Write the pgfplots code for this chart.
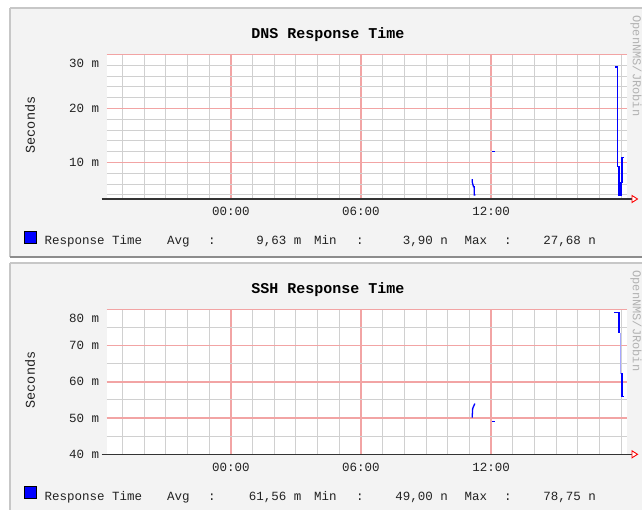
\documentclass[border=0pt]{standalone}
\usepackage{pgfplots}
\pgfplotsset{compat=1.18}
\usepackage{fontspec}
\setmainfont{Liberation Mono}
\newfontfamily\mono{Liberation Mono}
\definecolor{panelbg}{HTML}{F3F3F3}
\definecolor{majgrid}{HTML}{F2A4A4}
\definecolor{mingrid}{HTML}{D0D0D0}
\definecolor{rrdblue}{HTML}{0000FF}
\definecolor{txt}{HTML}{222222}
\pgfplotsset{rrd/.style={
  scale only axis, width=520.3pt,
  xmin=-5.73, xmax=18.27,
  axis line style={draw=none},
  grid=both,
  major grid style={majgrid, line width=1.5pt},
  minor grid style={mingrid, line width=1pt},
  major tick length=0pt, minor tick length=0pt,
  xtick={0,6,12}, xticklabels={00:00,06:00,12:00},
  minor xtick={-5,-4,-3,-2,-1,1,2,3,4,5,7,8,9,10,11,13,14,15,16,17,18},
  tick label style={font=\fontsize{12.5}{12.5}\selectfont\mono, text=txt},
  xticklabel style={yshift=-5pt},
  yticklabel style={xshift=-4pt},
  extra y tick style={yticklabel style={yshift=-9pt}},
}}
\begin{document}
\begin{tikzpicture}
\useasboundingbox (0pt,0pt) rectangle (642pt,-510pt);
\fill[white] (0pt,0pt) rectangle (642pt,-510pt);
% panels
\fill[panelbg] (10pt,-8pt) rectangle (642pt,-257pt);
\fill[panelbg] (10pt,-263pt) rectangle (642pt,-510pt);
\draw[black!22, line width=1.5pt] (10pt,-8pt) -- (642pt,-8pt);
\draw[black!22, line width=1.5pt] (10pt,-8pt) -- (10pt,-257pt);
\draw[black!45, line width=2pt] (10pt,-257.5pt) -- (642pt,-257.5pt);
\draw[black!22, line width=1.5pt] (10pt,-263pt) -- (642pt,-263pt);
\draw[black!22, line width=1.5pt] (10pt,-263pt) -- (10pt,-510pt);

% ---------------- DNS ----------------
\begin{axis}[rrd, at={(106.7pt,-199pt)}, anchor=south west,
  height=144.5pt,
  ymin=3.24, ymax=30,
  ytick={10,20}, yticklabels={10 m,20 m},
  extra y ticks={30}, extra y tick labels={30 m},
  minor ytick={4,6,8,12,14,16,18,22,24,26,28},
  axis background/.style={fill=white}]
\addplot[rrdblue, line width=1.3pt] coordinates {(11.10,6.8) (11.13,6.8) (11.13,6.4) (11.19,5.5) (11.22,5.5) (11.22,4.0) (11.27,4.0)};
\addplot[rrdblue, line width=1.3pt] coordinates {(12.06,12.0) (12.17,12.0)};
\addplot[rrdblue, line width=1.3pt] coordinates {(17.71,27.7) (17.84,27.7) (17.84,9.2) (17.90,9.2) (17.90,3.9) (17.99,3.9) (17.99,6.3) (18.04,6.3) (18.04,10.9) (18.12,10.9)};
\end{axis}
\draw[black!80, line width=1.3pt] (101.7pt,-199pt) -- (632pt,-199pt);
\draw[red, line width=0.9pt, fill=white] (632pt,-195.5pt) -- (637.5pt,-199pt) -- (632pt,-202.5pt) -- cycle;
\node[font=\fontsize{15}{15}\selectfont\bfseries\mono, text=black] at (328pt,-35pt) {DNS Response Time};
\node[font=\fontsize{13.5}{13.5}\selectfont\mono, text=txt, rotate=90] at (30pt,-125pt) {Seconds};
\node[font=\fontsize{12}{12}\selectfont\mono, text=black!30, rotate=-90] at (636pt,-66pt) {OpenNMS/JRobin};
\fill[rrdblue, draw=black, line width=0.6pt] (24.7pt,-231pt) rectangle (36.7pt,-243pt);
\begin{scope}[every node/.style={font=\fontsize{12.5}{12.5}\selectfont\mono, text=txt, inner sep=0pt}]
\node[anchor=base west] at (44.3pt,-245pt) {Response Time};
\node[anchor=base west] at (167pt,-245pt) {Avg};
\node[anchor=base west] at (208pt,-245pt) {:};
\node[anchor=base east] at (301.7pt,-245pt) {9,63 m};
\node[anchor=base west] at (314pt,-245pt) {Min};
\node[anchor=base west] at (356pt,-245pt) {:};
\node[anchor=base east] at (448pt,-245pt) {3,90 n};
\node[anchor=base west] at (464.3pt,-245pt) {Max};
\node[anchor=base west] at (504pt,-245pt) {:};
\node[anchor=base east] at (596pt,-245pt) {27,68 n};
\end{scope}

% ---------------- SSH ----------------
\begin{axis}[rrd, at={(106.7pt,-454.3pt)}, anchor=south west,
  height=145pt,
  ymin=40, ymax=80,
  ytick={40,50,60,70}, yticklabels={40 m,50 m,60 m,70 m},
  extra y ticks={80}, extra y tick labels={80 m},
  minor ytick={45,55,65,75},
  axis background/.style={fill=white}]
\addplot[rrdblue, line width=1.3pt] coordinates {(11.10,50.3) (11.13,50.3) (11.15,52.6) (11.25,54.0)};
\addplot[rrdblue, line width=1.3pt] coordinates {(12.06,49.1) (12.17,49.1)};
\addplot[rrdblue, line width=1.3pt] coordinates {(17.68,79.1) (17.90,79.1) (17.90,73.6) (17.96,73.6)};
\addplot[rrdblue!35, line width=0.9pt] coordinates {(17.96,73.6) (17.96,62.3) (18.04,62.3)};
\addplot[rrdblue, line width=1.3pt] coordinates {(18.04,62.3) (18.04,56.0) (18.12,56.0)};
\end{axis}
\draw[black!80, line width=1.3pt] (101.7pt,-454.3pt) -- (632pt,-454.3pt);
\draw[red, line width=0.9pt, fill=white] (632pt,-450.8pt) -- (637.5pt,-454.3pt) -- (632pt,-457.8pt) -- cycle;
\node[font=\fontsize{15}{15}\selectfont\bfseries\mono, text=black] at (328pt,-290pt) {SSH Response Time};
\node[font=\fontsize{13.5}{13.5}\selectfont\mono, text=txt, rotate=90] at (30pt,-380pt) {Seconds};
\node[font=\fontsize{12}{12}\selectfont\mono, text=black!30, rotate=-90] at (636pt,-321pt) {OpenNMS/JRobin};
\fill[rrdblue, draw=black, line width=0.6pt] (24.7pt,-486pt) rectangle (36.7pt,-498.3pt);
\begin{scope}[every node/.style={font=\fontsize{12.5}{12.5}\selectfont\mono, text=txt, inner sep=0pt}]
\node[anchor=base west] at (44.3pt,-500pt) {Response Time};
\node[anchor=base west] at (167pt,-500pt) {Avg};
\node[anchor=base west] at (208pt,-500pt) {:};
\node[anchor=base east] at (301.7pt,-500pt) {61,56 m};
\node[anchor=base west] at (314pt,-500pt) {Min};
\node[anchor=base west] at (356pt,-500pt) {:};
\node[anchor=base east] at (448pt,-500pt) {49,00 n};
\node[anchor=base west] at (464.3pt,-500pt) {Max};
\node[anchor=base west] at (504pt,-500pt) {:};
\node[anchor=base east] at (596pt,-500pt) {78,75 n};
\end{scope}
\end{tikzpicture}
\end{document}
